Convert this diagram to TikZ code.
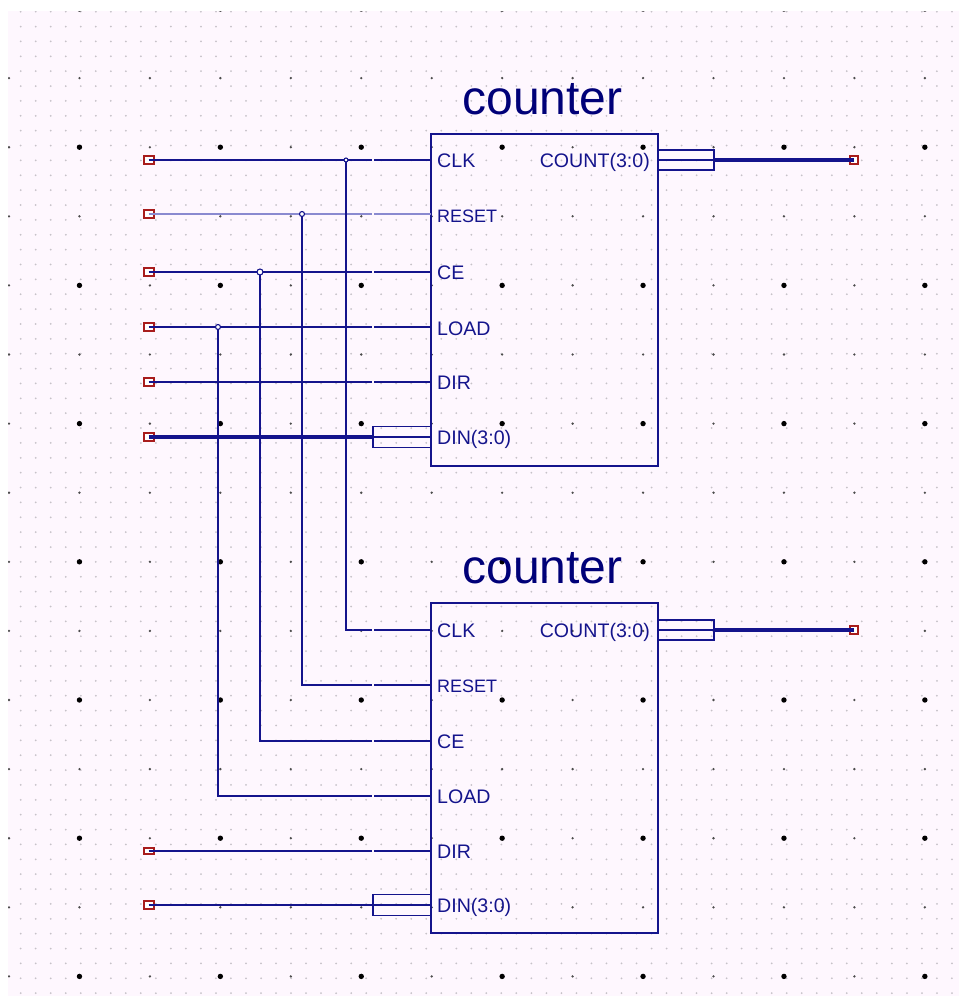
\documentclass[tikz,border=0pt]{standalone}
\usepackage{fontspec}
\setmainfont{Liberation Sans}
\definecolor{bgc}{HTML}{FEF7FE}
\definecolor{wirec}{HTML}{14148C}
\definecolor{textc}{HTML}{14148C}
\definecolor{titlec}{HTML}{000078}
\definecolor{lightw}{HTML}{8A8AD0}
\definecolor{portc}{HTML}{A81C1C}
\definecolor{gridc}{HTML}{C6C2C8}
\tikzset{
  wire/.style={draw=wirec,line width=1.8pt},
  faint/.style={draw=lightw,line width=1.8pt},
  thick wire/.style={draw=wirec,line width=3.6pt},
  wiregap/.style={draw=bgc,line width=1.6pt},
  block/.style={draw=wirec,line width=1.8pt,fill=none,inner sep=0pt,outer sep=0pt},
  bus/.style={draw=wirec,line width=1.7pt,fill=none,inner sep=0pt,outer sep=0pt},
  port/.style={draw=portc,line width=2pt,fill=white,minimum width=10pt,minimum height=8pt,inner sep=0pt,outer sep=0pt},
  rport/.style={port,minimum width=8pt,minimum height=8pt},
  junction/.style={circle,draw=wirec,line width=1.1pt,fill=white,inner sep=0pt,outer sep=0pt},
  pinl/.style={text=textc,font=\fontsize{19.6}{20}\selectfont,anchor=base west,inner sep=0pt},
  title/.style={text=titlec,font=\fontsize{48}{48}\selectfont,inner sep=0pt,anchor=base},
}
\begin{document}
\begin{tikzpicture}[x=1pt,y=-1pt]
\useasboundingbox (0,0) rectangle (959,996);
\fill[bgc] (8,11) rectangle (959,996);
\begin{scope}
\clip (8,11) rectangle (959,996);
\foreach \i in {0,...,62}{\foreach \j in {0,...,66}{
  \fill[gridc] ({20.7+15.02*\i},{11.7+14.87*\j}) circle (1pt);
}}
\foreach \i in {0,...,13}{\foreach \j in {0,...,14}{
  \pgfmathsetmacro{\xx}{9+70.45*\i}
  \pgfmathsetmacro{\yy}{9+69.1*\j}
  \pgfmathtruncatemacro{\big}{(mod(\i,2)==1 && mod(\j,2)==0)?1:0}
  \ifnum\big=1
    \fill[black] (\xx,\yy) circle (2.7pt);
  \else
    \fill[black!70] (\xx,\yy) circle (1.3pt);
  \fi
}}
\end{scope}
% blocks
\node[title] (t1) at (542.5,114) {counter};
\node[title] (t2) at (542.5,583) {counter};
\node[block,minimum width=227pt,minimum height=332pt] (u) at (544.5,300) {};
\node[block,minimum width=227pt,minimum height=330pt] (l) at (544.5,768) {};
% pin coordinates
\foreach \n/\y in {uclk/160,urst/214,uce/272,uload/327,udir/382,udin/437,lclk/630,lrst/685,lce/741,lload/796,ldir/851,ldin/905}{
  \coordinate (\n) at (431,\y);
}
% labels
\node[pinl] (a1) at (437,167) {CLK};
\node[pinl,font=\fontsize{18}{18}\selectfont] (a2) at (437,222) {RESET};
\node[pinl] (a3) at (437,279) {CE};
\node[pinl] (a4) at (437,335) {LOAD};
\node[pinl] (a5) at (437,389) {DIR};
\node[pinl] (a6) at (437,444) {DIN(3:0)};
\node[pinl,anchor=base east] (a7) at (650,167) {COUNT(3:0)};
\node[pinl] (b1) at (437,637) {CLK};
\node[pinl,font=\fontsize{18}{18}\selectfont] (b2) at (437,692) {RESET};
\node[pinl] (b3) at (437,748) {CE};
\node[pinl] (b4) at (437,803) {LOAD};
\node[pinl] (b5) at (437,858) {DIR};
\node[pinl] (b6) at (437,912) {DIN(3:0)};
\node[pinl,anchor=base east] (b7) at (650,637) {COUNT(3:0)};
% bus boxes
\node[bus,minimum width=58pt,minimum height=21pt] (ubus) at (402,437) {};
\node[bus,minimum width=58pt,minimum height=21pt] (lbus) at (402,905) {};
\node[bus,minimum width=56pt,minimum height=20pt] (cbus1) at (686,160) {};
\node[bus,minimum width=56pt,minimum height=20pt] (cbus2) at (686,630) {};
% ports
\node[port] (p1) at (148.5,160) {};
\node[port] (p2) at (148.5,214) {};
\node[port] (p3) at (148.5,272) {};
\node[port] (p4) at (148.5,327) {};
\node[port] (p5) at (148.5,382) {};
\node[port] (p6) at (148.5,437) {};
\node[port,minimum height=6pt] (p7) at (148.5,851) {};
\node[port] (p8) at (148.5,905) {};
\node[rport] (q1) at (854,160) {};
\node[rport] (q2) at (854,630) {};
% junction coordinates
\coordinate (jc) at (346,160);
\coordinate (jr) at (302,214);
\coordinate (je) at (260,272);
\coordinate (jl) at (218,327);
\coordinate (bc) at (346,630);
\coordinate (br) at (302,685);
\coordinate (be) at (260,741);
\coordinate (bl) at (218,796);
% wires
\draw[wire] (p1.center) -- (uclk);
\draw[faint] (p2.center) -- (urst);
\draw[wire] (p3.center) -- (uce);
\draw[wire] (p4.center) -- (uload);
\draw[wire] (p5.center) -- (udir);
\draw[thick wire] (p6.center) -- (ubus.west);
\draw[wire] (ubus.west) -- (udin);
\draw[wire] (jc) -- (bc) -- (lclk);
\draw[wire] (jr) -- (br) -- (lrst);
\draw[wire] (je) -- (be) -- (lce);
\draw[wire] (jl) -- (bl) -- (lload);
\draw[wire] (p7.center) -- (ldir);
\draw[wire] (p8.center) -- (lbus.west);
\draw[wire] (lbus.west) -- (ldin);
\draw[wire] (cbus1.west) -- (cbus1.east);
\draw[wire] (cbus2.west) -- (cbus2.east);
\draw[thick wire] (cbus1.east) -- (q1.center);
\draw[thick wire] (cbus2.east) -- (q2.center);
% small breaks in the wires
\foreach \y in {160,214,272,327,382,630,685,741,796,851}{
  \draw[wiregap] (372.8,\y-2) -- (372.8,\y+2);
}
% junction dots
\node[junction,minimum size=4pt] (n1) at (jc) {};
\node[junction,minimum size=5pt] (n2) at (jr) {};
\node[junction,minimum size=6pt] (n3) at (je) {};
\node[junction,minimum size=5pt] (n4) at (jl) {};
\end{tikzpicture}
\end{document}
